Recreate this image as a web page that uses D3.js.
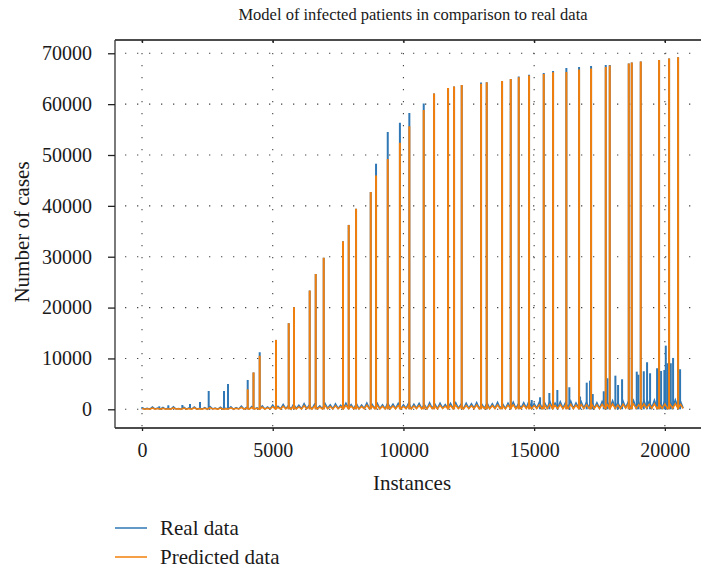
<!DOCTYPE html>
<html><head><meta charset="utf-8">
<script src="https://cdn.jsdelivr.net/npm/d3@7"></script>
<style>
body{margin:0;background:#fff}
svg{display:block}
text{font-family:"Liberation Serif","DejaVu Serif",serif;fill:#1a1a1a}
</style>
</head><body><svg id="c" width="701" height="574"></svg>
<script>
const title = "Model of infected patients in comparison to real data";
const xLabel = "Instances";
const yLabel = "Number of cases";
const legendLabels = ["Real data", "Predicted data"];
const xTicks = [0, 5000, 10000, 15000, 20000];
const yTicks = [0, 10000, 20000, 30000, 40000, 50000, 60000, 70000];

// Large periodic spikes (instance, predicted, real)
const peakInstances = [4043, 4265, 4502, 5126, 5612, 5815, 6415, 6645, 6951, 7689, 7907, 8187, 8749, 8952, 9400, 9865, 10226, 10776, 11171, 11706, 11936, 12230, 12969, 13186, 13772, 14105, 14411, 14805, 15367, 15723, 16232, 16718, 17177, 17739, 17892, 18619, 18734, 19078, 19778, 20161, 20505];
const predictedPeaks = [3937, 7240, 10520, 13642, 16929, 20079, 23346, 26600, 29800, 33030, 36250, 39429, 42717, 45984, 49213, 52390, 55630, 58850, 62100, 63189, 63445, 63780, 64000, 64300, 64567, 64961, 65280, 65610, 65945, 66260, 66339, 66791, 66988, 67323, 67580, 67972, 68169, 68366, 68701, 68957, 69213];
const realPeaks = [5768, 7240, 11220, 13642, 16929, 20079, 23346, 26600, 29800, 33030, 36250, 39429, 42717, 48287, 54528, 56330, 58268, 60120, 62100, 63189, 63445, 63780, 64232, 64300, 64567, 64961, 65420, 65800, 66140, 66530, 67126, 67323, 67520, 67717, 67717, 67972, 68169, 68366, 68701, 68957, 69213];

// Smaller spikes present only in the real data
const realSpikeInstances = [12, 660, 1007, 1543, 1836, 2219, 2551, 3137, 3290, 14906, 15226, 15581, 15887, 16346, 16756, 17011, 17138, 17241, 17662, 17801, 18107, 18210, 18363, 18925, 18987, 19193, 19319, 19434, 19702, 19855, 19981, 20035, 20097, 20226, 20314, 20582];
const realSpikeValues = [450, 590, 790, 846, 1043, 1437, 3602, 3602, 4980, 1830, 2362, 3209, 3800, 4331, 2500, 5236, 5630, 3000, 3543, 6102, 6614, 4783, 5906, 7402, 6800, 7480, 9252, 7087, 8071, 7539, 7736, 12520, 9055, 9055, 10098, 7874];

// Low-level values, one every 100 instances (0 ... 20700)
const baseInstanceStep = 100;
const realBase = [
320,40,180,20,450,60,240,30,380,50,
210,20,520,70,160,10,400,40,290,60,
470,30,200,50,350,20,560,80,260,40,
430,30,180,60,500,20,330,70,610,40,
380,50,540,90,300,40,680,60,450,80,
820,120,600,80,950,150,720,60,1050,140,
780,100,1120,180,860,90,1000,160,700,120,
1150,200,900,110,1080,170,820,130,1200,210,
940,150,1100,120,860,190,1250,140,980,220,
1180,160,900,130,1230,240,1000,170,1150,140,
880,200,1260,150,1020,230,1190,180,940,140,
1300,210,1050,160,1220,250,920,190,1160,170,
1280,230,990,150,1200,200,1080,260,1330,180,
970,220,1250,170,1100,240,1350,200,1020,160,
1220,250,1400,190,1080,230,1300,270,1600,210,
1150,240,1450,200,1300,280,1550,220,1200,260,
1480,230,1350,290,1600,210,1250,270,1500,240,
1380,300,1650,250,1300,220,1550,310,1420,260,
1700,280,1350,240,1600,320,1480,270,1750,300,
1400,260,1680,330,1550,290,1800,250,1500,310,
1750,280,1600,340,1850,300,1550,260];
const predictedBase = [
180,20,90,10,260,30,140,15,220,25,
120,10,300,40,100,20,240,10,170,30,
280,20,130,35,210,10,330,45,160,20,
250,15,120,40,300,10,200,50,360,25,
230,30,320,55,180,20,400,40,270,60,
500,60,380,40,600,90,450,30,650,80,
480,50,700,100,540,40,620,90,440,70,
720,110,560,60,680,100,520,80,760,120,
590,90,700,60,540,110,780,80,620,130,
740,90,570,70,780,140,640,100,720,80,
560,120,800,90,650,130,750,100,600,80,
820,120,660,90,770,150,590,110,730,100,
810,140,630,90,760,120,690,160,840,110,
620,130,790,100,700,150,850,120,650,90,
780,150,880,110,690,140,820,160,900,120,
740,150,900,120,820,170,960,130,760,160,
920,140,850,180,980,130,800,170,940,150,
870,190,1000,160,830,130,960,200,900,160,
1040,170,860,150,990,200,930,170,1060,190,
900,160,1030,210,970,180,1080,150,940,200,
1060,170,990,210,1100,190,960,160];

const blue = "#2f77b5", orange = "#f27f0c";
const svg = d3.select("#c");
const L = 115, R = 701, T = 40, B = 428;
const x = d3.scaleLinear().domain([-1033, 21382]).range([L, R]);
const y = d3.scaleLinear().domain([-3677, 72611]).range([B, T]);

// grid
const g = svg.append("g");
g.selectAll(".hg").data(yTicks).join("line")
  .attr("x1", L).attr("x2", R).attr("y1", d => y(d)).attr("y2", d => y(d))
  .attr("stroke", "#444").attr("stroke-width", 1.1).attr("stroke-dasharray", "1.3,10.7").attr("stroke-dashoffset", -10);
g.selectAll(".vg").data(xTicks).join("line")
  .attr("y1", T).attr("y2", B).attr("x1", d => x(d)).attr("x2", d => x(d))
  .attr("stroke", "#444").attr("stroke-width", 1.1).attr("stroke-dasharray", "1.3,10.7").attr("stroke-dashoffset", -1);

const line = d3.line().x((d, i) => x(i * baseInstanceStep)).y(d => y(d));

function stems(inst, vals, color) {
  svg.append("g").selectAll("line").data(inst).join("line")
    .attr("x1", d => x(d)).attr("x2", d => x(d))
    .attr("y1", y(0)).attr("y2", (d, i) => y(vals[i]))
    .attr("stroke", color).attr("stroke-width", 2);
}
// real data (drawn first)
svg.append("path").attr("d", line(realBase)).attr("fill", "none").attr("stroke", blue).attr("stroke-width", 1.5);
stems(realSpikeInstances, realSpikeValues, blue);
stems(peakInstances, realPeaks, blue);
// predicted data
svg.append("path").attr("d", line(predictedBase)).attr("fill", "none").attr("stroke", orange).attr("stroke-width", 1.5);
stems(peakInstances, predictedPeaks, orange);

// frame
svg.append("line").attr("x1", L).attr("x2", R).attr("y1", T).attr("y2", T).attr("stroke", "#111").attr("stroke-width", 1.3);
svg.append("line").attr("x1", L).attr("x2", R).attr("y1", B).attr("y2", B).attr("stroke", "#111").attr("stroke-width", 1.3);
svg.append("line").attr("x1", L).attr("x2", L).attr("y1", T).attr("y2", B).attr("stroke", "#333").attr("stroke-width", 1.3);

// axes
const yAxis = svg.append("g").attr("transform", `translate(${L},0)`)
  .call(d3.axisLeft(y).tickValues(yTicks).tickSize(7).tickPadding(16).tickFormat(d3.format("d")));
const xAxis = svg.append("g").attr("transform", `translate(0,${B})`)
  .call(d3.axisBottom(x).tickValues(xTicks).tickSize(3).tickPadding(12).tickFormat(d3.format("d")));
const xTop = svg.append("g").attr("transform", `translate(0,${T})`)
  .call(d3.axisBottom(x).tickValues(xTicks).tickSize(3).tickFormat(""));
[yAxis, xAxis, xTop].forEach(a => {
  a.select(".domain").remove();
  a.selectAll("line").attr("stroke", "#222").attr("stroke-width", 1.3);
  a.selectAll("text").style("font-family", '"Liberation Serif", serif').style("font-size", "20px").attr("fill", "#1a1a1a");
});

svg.append("text").attr("x", 413).attr("y", 20).attr("text-anchor", "middle").style("font-size", "16.5px").text(title);
svg.append("text").attr("x", 412).attr("y", 490).attr("text-anchor", "middle").style("font-size", "21px").text(xLabel);
svg.append("text").attr("transform", "translate(29,232) rotate(-90)").attr("text-anchor", "middle").style("font-size", "21px").text(yLabel);

// legend
const leg = svg.append("g");
[blue, orange].forEach((c, i) => {
  const yy = 528 + i * 29;
  leg.append("line").attr("x1", 115).attr("x2", 147).attr("y1", yy).attr("y2", yy).attr("stroke", c).attr("stroke-width", 1.5);
  leg.append("text").attr("x", 160).attr("y", yy + 7).style("font-size", "21px").text(legendLabels[i]);
});
</script></body></html>
